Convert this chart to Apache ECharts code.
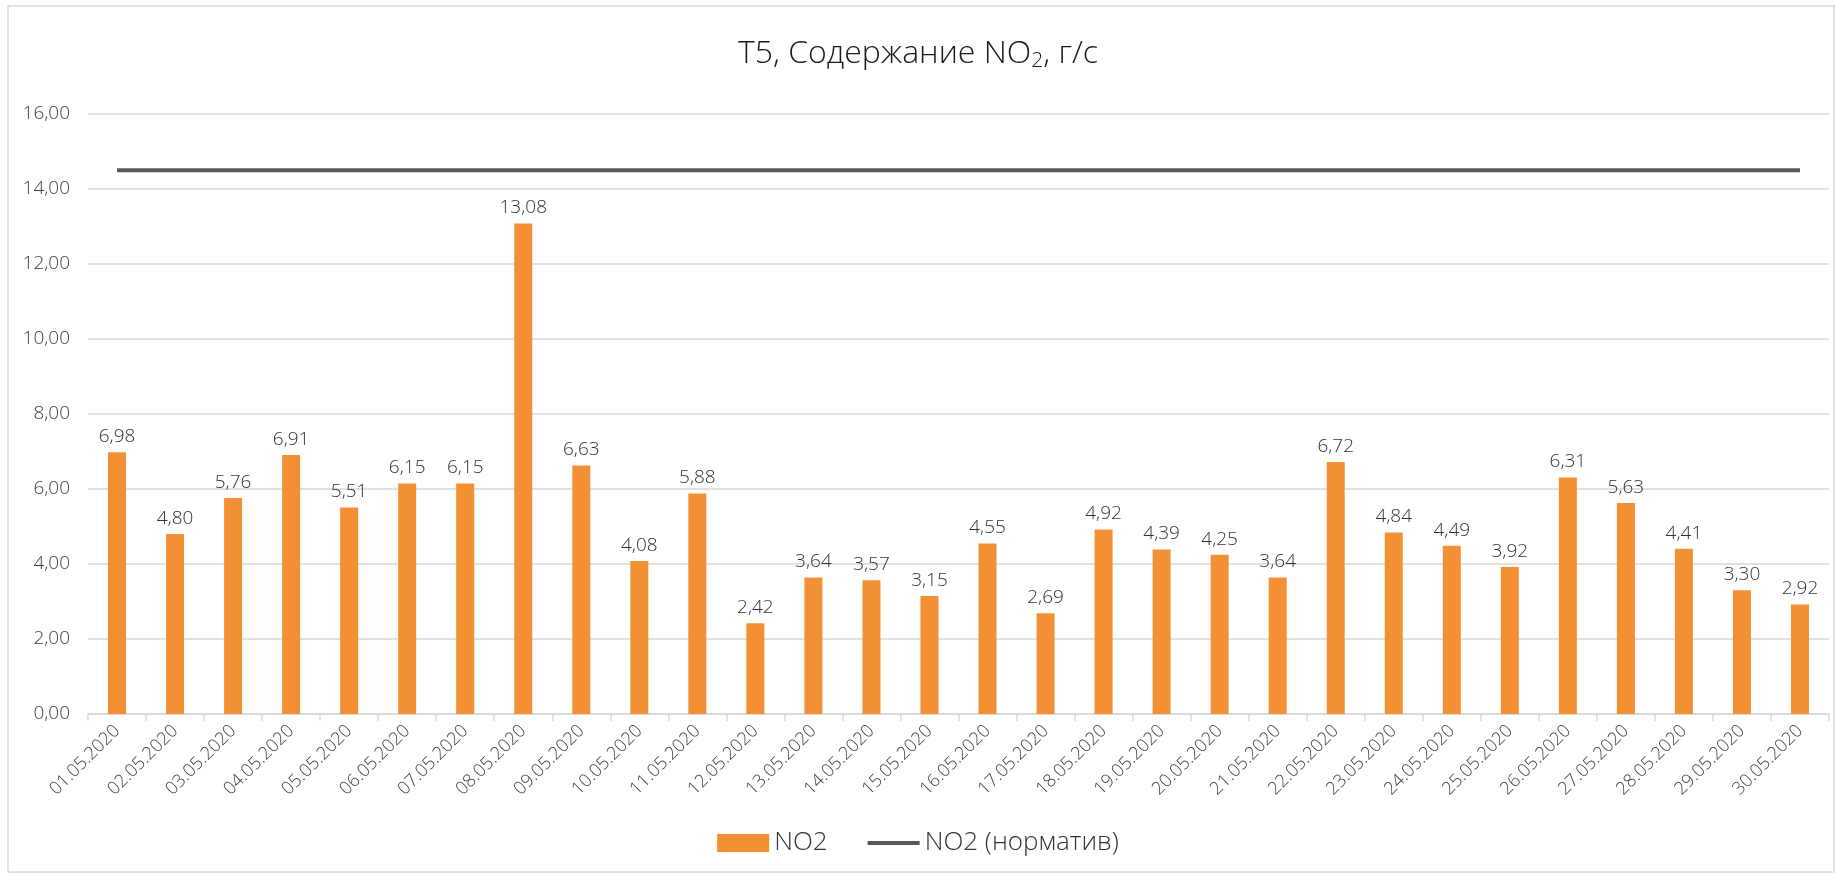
<!DOCTYPE html>
<html>
<head>
<meta charset="utf-8">
<script src="https://cdn.jsdelivr.net/npm/echarts@6/dist/echarts.min.js"></script>
<style>html,body{margin:0;padding:0;background:#fff}#c{width:1836px;height:877px}</style>
</head>
<body>
<div id="c"></div>
<script>
const categories = ['01.05.2020','02.05.2020','03.05.2020','04.05.2020','05.05.2020','06.05.2020','07.05.2020','08.05.2020','09.05.2020','10.05.2020','11.05.2020','12.05.2020','13.05.2020','14.05.2020','15.05.2020','16.05.2020','17.05.2020','18.05.2020','19.05.2020','20.05.2020','21.05.2020','22.05.2020','23.05.2020','24.05.2020','25.05.2020','26.05.2020','27.05.2020','28.05.2020','29.05.2020','30.05.2020'];
const no2 = [6.98,4.80,5.76,6.91,5.51,6.15,6.15,13.08,6.63,4.08,5.88,2.42,3.64,3.57,3.15,4.55,2.69,4.92,4.39,4.25,3.64,6.72,4.84,4.49,3.92,6.31,5.63,4.41,3.30,2.92];
const normValue = 14.5;
const norm = categories.map(() => normValue);
const yTicks = {min: 0, max: 16, interval: 2};

const FONT = 'Open Sans';
const chart = echarts.init(document.getElementById('c'));
const fmt = v => v.toFixed(2).replace('.', ',');
chart.setOption({
  animation: false,
  textStyle: {fontFamily: FONT},
  graphic: [{type: 'rect', shape: {x: 8, y: 6, width: 1826, height: 866}, style: {fill: 'none', stroke: '#d9d9d9', lineWidth: 1.5}, silent: true}],
  title: {
    text: '{a|T5, Содержание NO}{s|2}{a|, г/с}',
    left: 'center', top: 30,
    textStyle: {rich: {
      a: {fontFamily: FONT, fontSize: 32, color: '#1a1a1a', fontWeight: 300},
      s: {fontFamily: FONT, fontSize: 21, color: '#1a1a1a', fontWeight: 300, padding: [16, 0, 0, 0]}
    }}
  },
  legend: {
    bottom: 16, left: 'center', itemGap: 40, itemWidth: 52, itemHeight: 18,
    textStyle: {fontFamily: FONT, fontSize: 26, color: '#333', fontWeight: 300},
    data: [{name: 'NO2', icon: 'rect'}, {name: 'NO2 (норматив)', icon: 'path://M0,0 L52,0 L52,4 L0,4 Z'}]
  },
  grid: {left: 88, right: 7, top: 114, bottom: 163, containLabel: false},
  xAxis: {
    type: 'category', data: categories, boundaryGap: true,
    axisLine: {lineStyle: {color: '#d9d9d9', width: 1.5}},
    axisTick: {show: true, alignWithLabel: false, length: 7, lineStyle: {color: '#d9d9d9', width: 1.5}},
    axisLabel: {rotate: 45, interval: 0, fontFamily: FONT, fontSize: 18, color: '#404040', fontWeight: 300, margin: 14}
  },
  yAxis: {
    type: 'value', min: yTicks.min, max: yTicks.max, interval: yTicks.interval,
    axisLine: {show: false}, axisTick: {show: false},
    splitLine: {lineStyle: {color: '#d9d9d9', width: 1.5}},
    axisLabel: {formatter: fmt, fontFamily: FONT, fontSize: 19, color: '#404040', fontWeight: 300, margin: 18}
  },
  series: [
    {name: 'NO2', type: 'bar', data: no2, barWidth: 18,
     itemStyle: {color: '#F39034'},
     label: {show: true, position: 'top', distance: 6, formatter: p => fmt(p.value), fontFamily: FONT, fontSize: 19, color: '#333', fontWeight: 300}},
    {name: 'NO2 (норматив)', type: 'line', data: norm, symbol: 'none',
     lineStyle: {color: '#595959', width: 4}, itemStyle: {color: '#595959'}, z: 5}
  ]
});
</script>
</body>
</html>
